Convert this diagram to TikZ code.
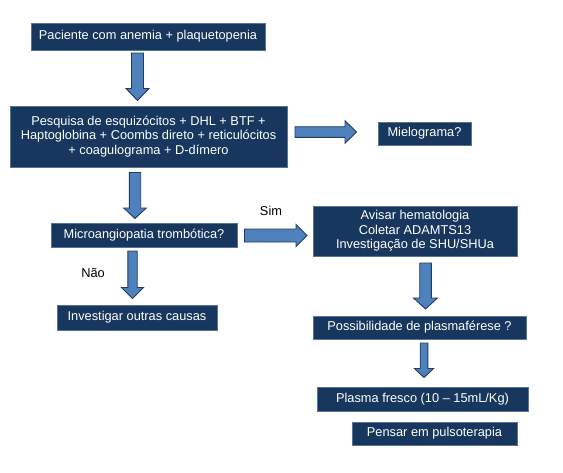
\documentclass[tikz,border=0pt]{standalone}
\usepackage{fontspec}
\setmainfont{Liberation Sans}
\usetikzlibrary{calc}
\definecolor{boxfill}{HTML}{17375E}
\definecolor{boxline}{HTML}{5A7394}
\definecolor{arrfill}{HTML}{4F81BD}
\definecolor{arrline}{HTML}{1F3C63}
\tikzset{
  stepbox/.style={draw=boxline, line width=0.6pt, fill=boxfill, text=white, align=center,
    inner sep=0pt, font=\fontsize{12.8}{14.5}\selectfont},
  barrow/.style={draw=arrline, line width=0.9pt, fill=arrfill, line join=miter},
  lbl/.style={font=\fontsize{12.8}{14.5}\selectfont, text=black, inner sep=0pt}
}
\newcommand\blkdown[5]{\draw[barrow] let \p1=(#1), \p2=(#2) in
  (\x1-#3pt,\y1) -- (\x1+#3pt,\y1) -- (\x1+#3pt,\y2+#5pt) -- (\x1+#4pt,\y2+#5pt) --
  (\x1,\y2) -- (\x1-#4pt,\y2+#5pt) -- (\x1-#3pt,\y2+#5pt) -- cycle;}
\newcommand\blkright[5]{\draw[barrow] let \p1=(#1), \p2=(#2) in
  (\x1,\y1+#3pt) -- (\x2-#5pt,\y1+#3pt) -- (\x2-#5pt,\y1+#4pt) -- (\x2,\y1) --
  (\x2-#5pt,\y1-#4pt) -- (\x2-#5pt,\y1-#3pt) -- (\x1,\y1-#3pt) -- cycle;}
\begin{document}
\begin{tikzpicture}[x=1pt,y=-1pt]
\useasboundingbox[fill=white] (0,0) rectangle (563,472);
\node[stepbox, minimum width=234pt, minimum height=27pt] (b1) at (148,36.5) {Paciente com anemia + plaquetopenia};
\node[stepbox, minimum width=277pt, minimum height=61pt] (b2) at (148.5,136.5) {Pesquisa de esquizócitos + DHL + BTF +\\Haptoglobina + Coombs direto + reticulócitos\\+ coagulograma + D-dímero};
\node[stepbox, minimum width=93pt, minimum height=23pt] (mi) at (424.5,133.5) {Mielograma?};
\node[stepbox, minimum width=186pt, minimum height=24pt] (b3) at (144,235) {Microangiopatia trombótica?};
\node[stepbox, minimum width=160pt, minimum height=25pt] (b4) at (137,317.5) {Investigar outras causas};
\node[stepbox, minimum width=204pt, minimum height=50pt] (b5) at (415,231) {Avisar hematologia\\Coletar ADAMTS13\\Investigação de SHU/SHUa};
\node[stepbox, minimum width=213pt, minimum height=23pt] (b6) at (419.5,327.5) {Possibilidade de plasmaférese ?};
\node[stepbox, minimum width=211pt, minimum height=24pt] (b7) at (422.5,399) {Plasma fresco (10 – 15mL/Kg)};
\node[stepbox, minimum width=165pt, minimum height=23pt] (b8) at (434.5,433.5) {Pensar em pulsoterapia};
\node[lbl] (sim) at (271,211) {Sim};
\node[lbl] (nao) at (93,273) {Não};
% arrow end points
\coordinate (a1s) at (137.5,53);  \coordinate (a1e) at (137.5,100.5);
\coordinate (a2s) at (135,172.5); \coordinate (a2e) at (135,218.5);
\coordinate (a3s) at (132.5,251); \coordinate (a3e) at (132.5,298.5);
\coordinate (a5s) at (425.5,263); \coordinate (a5e) at (425.5,309);
\coordinate (a6s) at (424,343);   \coordinate (a6e) at (424,377.5);
\coordinate (ams) at (295,132);   \coordinate (ame) at (356.5,132);
\coordinate (ass) at (244.5,235.5); \coordinate (ase) at (307,235.5);
\blkdown{a1s}{a1e}{6}{11.5}{12}
\blkdown{a2s}{a2e}{5.7}{11.3}{10.5}
\blkdown{a3s}{a3e}{4.7}{11}{11}
\blkdown{a5s}{a5e}{5.8}{12}{11}
\blkdown{a6s}{a6e}{3.8}{9.5}{9}
\blkright{ams}{ame}{5.3}{11.3}{11.5}
\blkright{ass}{ase}{6.5}{11}{11}
\end{tikzpicture}
\end{document}
